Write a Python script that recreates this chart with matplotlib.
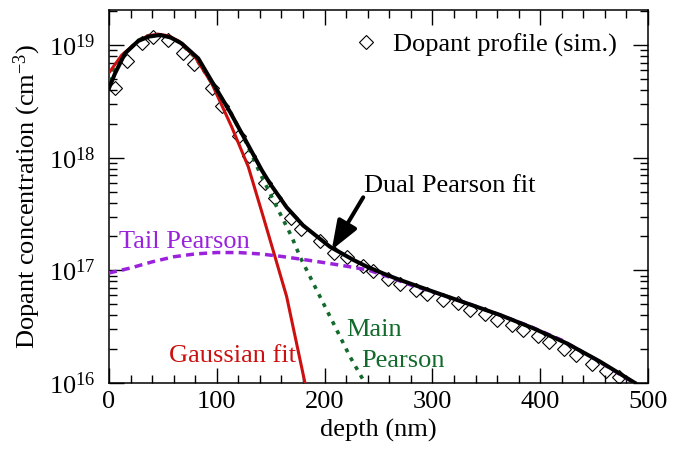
import matplotlib
matplotlib.use("Agg")
import matplotlib.pyplot as plt
from matplotlib.ticker import MultipleLocator, LogLocator, NullFormatter, FixedLocator

plt.rcParams['font.family'] = ['Liberation Serif', 'DejaVu Serif']
plt.rcParams['mathtext.fontset'] = 'custom'
plt.rcParams['mathtext.rm'] = 'Liberation Serif'
plt.rcParams['mathtext.it'] = 'Liberation Serif:italic'
plt.rcParams['mathtext.default'] = 'rm'

# ---------------- data ----------------
sim_depth = [5.6, 16.4, 30.6, 41.1, 54.7, 68.6, 78.8, 95.3, 105.2, 120.4, 130.3,
             144.7, 154.0, 168.5, 178.1, 195.3, 208.3, 220.6, 235.6, 244.9, 258.8,
             269.5, 284.8, 295.0, 309.4, 323.7, 334.9, 348.8, 360.0, 373.8, 383.6,
             398.4, 408.3, 422.5, 433.3, 447.8, 461.1, 473.1]
sim_conc = [4.15e18, 7.2e18, 1.05e19, 1.17e19, 1.11e19, 8.5e18, 6.85e18, 4.17e18,
            2.86e18, 1.57e18, 1.03e18, 6.0e17, 4.37e17, 2.92e17, 2.33e17, 1.81e17,
            1.42e17, 1.31e17, 1.09e17, 9.86e16, 8.46e16, 7.64e16, 6.76e16, 6.23e16,
            5.51e16, 5.08e16, 4.49e16, 4.06e16, 3.66e16, 3.24e16, 2.96e16, 2.61e16,
            2.32e16, 1.99e16, 1.77e16, 1.47e16, 1.28e16, 1.13e16]

dual_depth = [0, 5.6, 14.8, 27.2, 37, 47.3, 57, 67.4, 82.8, 98.3, 112.2, 129.2,
              141.7, 149.4, 164.8, 180, 205, 226.6, 239.1, 257.6, 269.9, 300.8,
              331.8, 362.7, 393.6, 424.6, 455.5, 488]
dual_conc = [4.15e18, 5.61e18, 8.43e18, 1.09e19, 1.19e19, 1.23e19, 1.17e19, 1.035e19,
             7.62e18, 4.27e18, 2.56e18, 1.29e18, 7.76e17, 5.89e17, 3.63e17, 2.51e17,
             1.62e17, 1.24e17, 1.08e17, 9.12e16, 8.22e16, 6.47e16, 5.10e16, 4.02e16,
             3.06e16, 2.25e16, 1.55e16, 1.0e16]

gauss_depth = [0, 11.8, 27.2, 36, 45.7, 55, 64.3, 79.8, 95.3, 113.8, 129.2, 143.1,
               154.0, 164.8, 181.8]
gauss_conc = [5.68e18, 8.15e18, 1.09e19, 1.21e19, 1.25e19, 1.21e19, 1.09e19, 7.87e18,
              4.57e18, 1.88e18, 8.32e17, 2.99e17, 1.32e17, 5.85e16, 1.0e16]

main_depth = [0, 10, 27, 36, 45, 55, 65, 80, 97, 113, 128, 140.1, 158.6, 169.5,
              177.2, 195.7, 208.1, 223.6, 235.9, 238]
main_conc = [4.8e18, 7.6e18, 1.1e19, 1.21e19, 1.24e19, 1.19e19, 1.07e19, 7.76e18,
             4.37e18, 2.51e18, 1.32e18, 7.28e17, 3.21e17, 1.99e17, 1.32e17, 5.85e16,
             3.40e16, 1.71e16, 1.06e16, 9.8e15]

tail_depth = [0, 20, 40, 60, 80, 100, 120, 140, 160, 180, 200, 220, 240, 260, 280,
              300, 330, 360, 390, 420, 450, 480, 490]
tail_conc = [9.48e16, 1.05e17, 1.19e17, 1.32e17, 1.40e17, 1.44e17, 1.44e17, 1.40e17,
             1.33e17, 1.25e17, 1.17e17, 1.09e17, 1.01e17, 8.73e16, 7.41e16, 6.47e16,
             5.2e16, 4.1e16, 3.2e16, 2.4e16, 1.65e16, 1.1e16, 9.8e15]

x_ticks = [0, 100, 200, 300, 400, 500]
y_ticks = [1e16, 1e17, 1e18, 1e19]
y_tick_labels = ['10$^{16}$', '10$^{17}$', '10$^{18}$', '10$^{19}$']

# ---------------- figure ----------------
W, H = 678, 450
fig = plt.figure(figsize=(W / 100, H / 100), dpi=100)
ax = fig.add_axes([109 / W, 1 - 383 / H, (648 - 109) / W, (383 - 10) / H])

FS = 19
RED = '#cc1010'
GREEN = '#126a2c'
PURPLE = '#9a22dd'

ax.plot(sim_depth, sim_conc, linestyle='none', marker='D', markersize=7.6,
        markerfacecolor='none', markeredgecolor='black', markeredgewidth=0.8,
        zorder=2, label='Dopant profile (sim.)')
ax.plot(tail_depth, tail_conc, color=PURPLE, lw=2.5, dashes=(2.3, 1.5), zorder=3)
ax.plot(main_depth, main_conc, color=GREEN, lw=2.6, dashes=(1.1, 1.7), zorder=4)
ax.plot(gauss_depth, gauss_conc, color=RED, lw=2.2, zorder=5)
ax.plot(dual_depth, dual_conc, color='black', lw=2.9, zorder=6)

ax.set_yscale('log')
ax.set_xlim(0, 500)
ax.set_ylim(1e16, 2.05e19)

ax.xaxis.set_major_locator(FixedLocator(x_ticks))
ax.xaxis.set_minor_locator(MultipleLocator(20))
ax.yaxis.set_major_locator(FixedLocator(y_ticks))
ax.set_yticklabels(y_tick_labels)
ax.yaxis.set_minor_locator(LogLocator(base=10, subs=range(2, 10)))
ax.yaxis.set_minor_formatter(NullFormatter())

ax.tick_params(which='both', direction='in', top=True, right=True, labelsize=FS,
               width=1.0)
ax.tick_params(which='major', length=11)
ax.tick_params(which='minor', length=5.5)
ax.tick_params(axis='x', pad=6)
ax.tick_params(axis='y', pad=10)
for s in ax.spines.values():
    s.set_linewidth(1.1)

ax.set_xlabel('depth (nm)', fontsize=FS)
ax.set_ylabel('Dopant concentration (cm$^{-3}$)', fontsize=FS)
ax.xaxis.set_label_coords(0.5, -0.095)
ax.yaxis.set_label_coords(-0.122, 0.5)

leg = ax.legend(loc='center left', bbox_to_anchor=(353 / W, 1 - 45 / H),
                bbox_transform=fig.transFigure, frameon=False, fontsize=FS,
                handlelength=1.0, handletextpad=0.5, borderpad=0, borderaxespad=0,
                markerscale=1.0)

# annotations
fig.text(363.5 / W, 1 - 191.7 / H, 'Dual Pearson fit', fontsize=FS, color='black',
         va='baseline', ha='left')
fig.text(119 / W, 1 - 248.3 / H, 'Tail Pearson', fontsize=FS, color=PURPLE,
         va='baseline', ha='left')
fig.text(169 / W, 1 - 362.3 / H, 'Gaussian fit', fontsize=FS, color=RED,
         va='baseline', ha='left')
fig.text(346.5 / W, 1 - 336 / H, 'Main', fontsize=FS, color=GREEN,
         va='baseline', ha='left')
fig.text(361.5 / W, 1 - 366.7 / H, 'Pearson', fontsize=FS, color=GREEN,
         va='baseline', ha='left')

ax.annotate('', xy=(206.6, 1.52e17), xytext=(235.8, 4.45e17),
            arrowprops=dict(arrowstyle='-|>,head_length=0.8,head_width=0.3',
                            lw=2.9, color='black', mutation_scale=22,
                            shrinkA=0, shrinkB=0), zorder=7)

fig.savefig('out.png', dpi=100)
